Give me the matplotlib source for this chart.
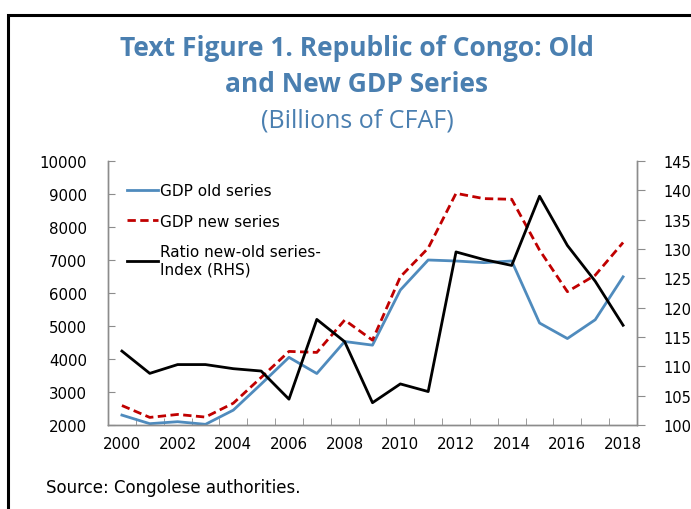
import numpy as np
import matplotlib
matplotlib.use("Agg")
import matplotlib.pyplot as plt
from matplotlib.patches import Rectangle

# GDP, billions of CFAF
years = list(range(2000, 2019))
gdp_old = [2300, 2040, 2100, 2020, 2450, 3240, 4050, 3560, 4530, 4420,
           6090, 7000, 6970, 6920, 6970, 5090, 4620, 5190, 6490]
gdp_new = [2590, 2230, 2320, 2240, 2660, 3440, 4230, 4200, 5180, 4570,
           6490, 7360, 9020, 8860, 8840, 7300, 6040, 6540, 7530]
# new/old ratio index (right-hand scale)
ratio_idx = [112.6, 108.8, 110.3, 110.3, 109.6, 109.2, 104.4, 118.0, 114.2, 103.8,
             107.0, 105.7, 129.5, 128.2, 127.2, 139.0, 130.6, 124.5, 117.0]

left_ticks = list(range(2000, 10001, 1000))
right_ticks = list(range(100, 146, 5))
year_labels = [str(y) for y in range(2000, 2019, 2)]

BLUE = "#4f8bbd"
RED = "#c00000"
TITLE_BLUE = "#4a7fb0"
GRID_GREY = "#8c8c8c"

plt.rcParams["font.family"] = ["DejaVu Sans"]

fig = plt.figure(figsize=(6.91, 5.10), dpi=100)

# outer frame (runs off the right and bottom edges)
fig.patches.append(Rectangle((8 / 691, -0.05), 1.1, (1 - 16 / 510) + 0.05,
                             transform=fig.transFigure, fill=False,
                             edgecolor="black", linewidth=2.2))

title_font = ["Liberation Sans Narrow", "Open Sans", "DejaVu Sans"]
fig.text(357 / 691, 1 - 48 / 510, "Text Figure 1. Republic of Congo: Old",
         ha="center", va="center", fontsize=19, fontweight="bold",
         color=TITLE_BLUE, family=title_font)
fig.text(357 / 691, 1 - 84 / 510, "and New GDP Series",
         ha="center", va="center", fontsize=19, fontweight="bold",
         color=TITLE_BLUE, family=title_font)
fig.text(357 / 691, 1 - 121 / 510, "(Billions of CFAF)",
         ha="center", va="center", fontsize=18,
         color=TITLE_BLUE, family=title_font)

ax = fig.add_axes([108 / 691, 1 - 426 / 510, 529 / 691, 264 / 510])
ax2 = ax.twinx()

l1, = ax.plot(years, gdp_old, color=BLUE, lw=2.0, label="GDP old series")
l2, = ax.plot(years, gdp_new, color=RED, lw=2.0, ls=(0, (3, 1.6)),
              label="GDP new series")
l3, = ax2.plot(years, ratio_idx, color="black", lw=2.0,
               label="Ratio new-old series-\nIndex (RHS)")

ax.set_xlim(1999.5, 2018.5)
ax.set_ylim(2000, 10000)
ax.set_yticks(left_ticks)
ax2.set_ylim(100, 145)
ax2.set_yticks(right_ticks)

ax.set_xticks(range(2000, 2019, 2))
ax.set_xticklabels(year_labels)
ax.set_xticks(np.arange(2000.5, 2018, 1), minor=True)
ax.tick_params(axis="x", which="major", length=0, pad=8, labelsize=10.8)
ax.tick_params(axis="x", which="minor", direction="in", length=5,
               color=GRID_GREY)
ax.tick_params(axis="y", direction="in", length=5, color=GRID_GREY,
               pad=15, labelsize=10.8)
ax2.tick_params(axis="y", direction="out", length=6, color=GRID_GREY,
                pad=13, labelsize=10.5)

for a in (ax, ax2):
    a.spines["top"].set_visible(False)
    for side in ("left", "right", "bottom"):
        a.spines[side].set_color(GRID_GREY)
        a.spines[side].set_linewidth(1.0)

ax.legend(handles=[l1, l2, l3], loc="upper left",
          bbox_to_anchor=(0.036, 0.915), frameon=False, fontsize=11,
          handlelength=2.0, handletextpad=0.15, labelspacing=1.0,
          borderpad=0, borderaxespad=0)

fig.text(46 / 691, 1 - 488 / 510, "Source: Congolese authorities.",
         ha="left", va="center", fontsize=12, family=["DejaVu Sans"])

fig.savefig("out.png", dpi=100)
